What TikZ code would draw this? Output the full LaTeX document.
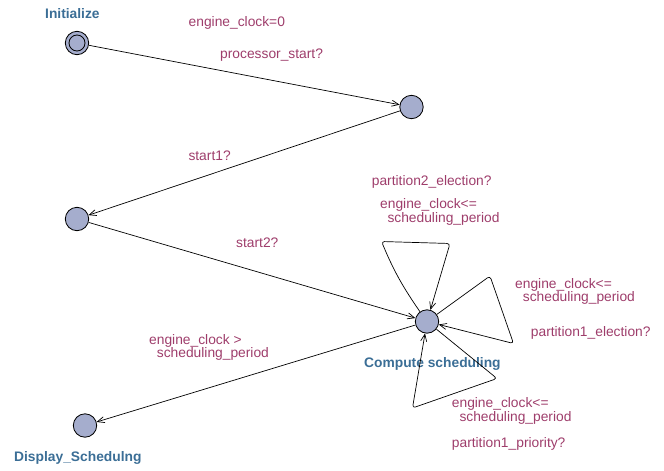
\documentclass[tikz,border=0pt]{standalone}
\usepackage{fontspec}
\setmainfont{Liberation Sans}
\usetikzlibrary{arrows.meta}
\definecolor{locfill}{HTML}{A5ADCD}
\definecolor{lblcol}{HTML}{9E3D6B}
\definecolor{namecol}{HTML}{3B6E96}
\tikzset{
  loc/.style={circle,draw=black,line width=0.8pt,fill=locfill,minimum size=23.4pt,inner sep=0pt},
  edge/.style={draw=black,line width=0.7pt,-{Straight Barb[length=7pt,width=6pt]}},
  lbl/.style={anchor=base west,inner sep=0pt,text=lblcol,font=\fontsize{13.8}{14}\selectfont,align=left},
  nm/.style={anchor=base west,inner sep=0pt,text=namecol,font=\fontsize{13.8}{14}\selectfont\bfseries}
}
\begin{document}
\begin{tikzpicture}[x=1pt,y=-1pt]
\useasboundingbox (0,0) rectangle (664,471);
% locations
\node[loc] (init) at (77,43) {};
\node[circle,draw=black,line width=0.8pt,minimum size=16pt,inner sep=0pt] (initin) at (77,43) {};
\node[loc] (n2) at (411.5,107) {};
\node[loc] (n3) at (77,219) {};
\node[loc] (cs) at (427,321.5) {};
\node[loc] (disp) at (85,425.5) {};
% names
\node[nm] (ninit) at (45,18.3) {Initialize};
\node[nm] (ncs) at (364,367.3) {Compute scheduling};
\node[nm] (ndisp) at (14,461.7) {Display\_Schedulng};
% edges
\draw[edge] (init) -- (n2);
\draw[edge] (n2) -- (n3);
\draw[edge] (n3) -- (cs);
\draw[edge] (cs) -- (disp);
% self loops
\coordinate (t1) at (381.5,241.5);
\coordinate (t2) at (450,243.5);
\coordinate (r1) at (490,276);
\coordinate (r2) at (513.5,343.5);
\coordinate (b1) at (497,378.5);
\coordinate (b2) at (412.5,408);
\draw[edge,rounded corners=3pt] (cs) to[bend left=6] (t1) -- (t2) -- (cs);
\draw[edge,rounded corners=3pt] (cs) -- (r1) -- (r2) -- (cs);
\draw[edge,rounded corners=3pt] (cs) -- (b1) -- (b2) -- (cs);
% labels
\node[lbl] (l1) at (188.5,26.5) {engine\_clock=0};
\node[lbl] (l2) at (220,58.3) {processor\_start?};
\node[lbl] (l3) at (188.3,160.7) {start1?};
\node[lbl] (l4) at (236,247.3) {start2?};
\node[lbl] (l5) at (371.7,185) {partition2\_election?};
\node[lbl] (l6a) at (380,208.3) {engine\_clock<=};
\node[lbl] (l6b) at (387.3,222.7) {scheduling\_period};
\node[lbl] (l7a) at (515,288.3) {engine\_clock<=};
\node[lbl] (l7b) at (522.7,301.7) {scheduling\_period};
\node[lbl] (l8) at (530.7,336) {partition1\_election?};
\node[lbl] (l9a) at (451.7,407) {engine\_clock<=};
\node[lbl] (l9b) at (459.3,421.7) {scheduling\_period};
\node[lbl] (l10) at (451.7,447.3) {partition1\_priority?};
\node[lbl] (l11a) at (149,344) {engine\_clock >};
\node[lbl] (l11b) at (156.7,357.3) {scheduling\_period};
\end{tikzpicture}
\end{document}
